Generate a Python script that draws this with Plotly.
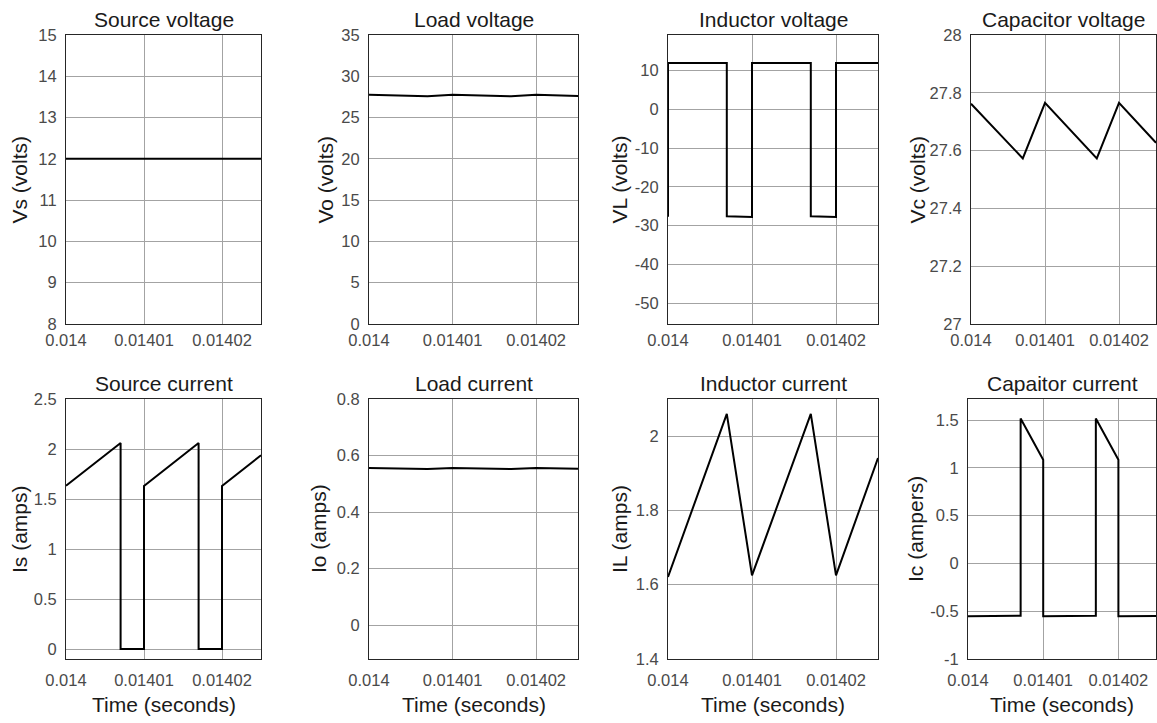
import plotly.graph_objects as go

# ---------------- data ----------------
t_span = [0.014, 0.014025]
vs = [12, 12]

t_tri = [0.014, 0.014007, 0.01401, 0.014017, 0.01402, 0.014025]
vo = [27.762, 27.573, 27.765, 27.573, 27.765, 27.627]
vc = [27.762, 27.573, 27.765, 27.573, 27.765, 27.627]
io = [0.556, 0.552, 0.556, 0.552, 0.556, 0.553]
il = [1.621, 2.060, 1.625, 2.060, 1.625, 1.941]

t_vl = [0.014, 0.014, 0.014007, 0.014007, 0.01401, 0.01401, 0.014017, 0.014017, 0.01402, 0.01402, 0.014025]
vl = [-27.7, 12, 12, -27.6, -27.8, 12, 12, -27.6, -27.8, 12, 12]

t_sw = [0.014, 0.014007, 0.014007, 0.01401, 0.01401, 0.014017, 0.014017, 0.01402, 0.01402, 0.014025]
i_s = [1.632, 2.060, 0, 0, 1.630, 2.060, 0, 0, 1.630, 1.937]
i_c = [-0.552, -0.548, 1.517, 1.084, -0.552, -0.548, 1.517, 1.084, -0.552, -0.550]

x_ticks = [0.014, 0.01401, 0.01402]
x_ticktext = ["0.014", "0.01401", "0.01402"]
x_label = "Time (seconds)"

titles = ["Source voltage", "Load voltage", "Inductor voltage", "Capacitor voltage",
          "Source current", "Load current", "Inductor current", "Capaitor current"]
ylabels = ["Vs (volts)", "Vo (volts)", "VL (volts)", "Vc (volts)",
           "Is (amps)", "Io (amps)", "IL (amps)", "Ic (ampers)"]

vs_ticks = [8, 9, 10, 11, 12, 13, 14, 15]
vo_ticks = [0, 5, 10, 15, 20, 25, 30, 35]
vl_ticks = [-50, -40, -30, -20, -10, 0, 10]
vc_ticks = [27, 27.2, 27.4, 27.6, 27.8, 28]
is_ticks = [0, 0.5, 1, 1.5, 2, 2.5]
io_ticks = [0, 0.2, 0.4, 0.6, 0.8]
il_ticks = [1.4, 1.6, 1.8, 2]
ic_ticks = [-1, -0.5, 0, 0.5, 1, 1.5]

y_ranges = [[8, 15], [0, 35], [-55.4, 19.2], [27, 28],
            [-0.1, 2.5], [-0.12, 0.8], [1.4, 2.1], [-1, 1.72]]

# ---------------- layout geometry (pixels) ----------------
W, H = 1157, 723
col_px = [[66, 261], [369, 578], [668, 878], [971, 1156]]
col_px_bottom4 = [968, 1156]
row_px = [[35, 324], [399, 659]]
ylabel_x = [[19, 325, 619, 917], [19, 318, 619, 915]]

FONT = "Liberation Sans, Arial, sans-serif"


def fmt(v):
    return "%g" % v


series = [
    (t_span, vs), (t_tri, vo), (t_vl, vl), (t_tri, vc),
    (t_sw, i_s), (t_tri, io), (t_tri, il), (t_sw, i_c),
]
yticks_all = [vs_ticks, vo_ticks, vl_ticks, vc_ticks, is_ticks, io_ticks, il_ticks, ic_ticks]

fig = go.Figure()
layout = dict(
    width=W, height=H,
    margin=dict(l=0, r=0, t=0, b=0, autoexpand=False),
    paper_bgcolor="white", plot_bgcolor="white",
    showlegend=False,
    font=dict(family=FONT, color="#262626"),
)
annotations = []

for k in range(8):
    r, c = divmod(k, 4)
    n = k + 1
    xs, ys = series[k]
    fig.add_trace(go.Scatter(x=xs, y=ys, mode="lines",
                             line=dict(color="black", width=2),
                             xaxis="x%d" % n, yaxis="y%d" % n,
                             hoverinfo="skip"))
    x0, x1 = col_px[c]
    if r == 1 and c == 3:
        x0, x1 = col_px_bottom4
    y0, y1 = row_px[r]
    xd = [x0 / W, x1 / W]
    yd = [1 - y1 / H, 1 - y0 / H]
    axis_common = dict(showline=True, mirror=True, linecolor="#262626", linewidth=1,
                       showgrid=True, gridcolor="#a3a3a3", gridwidth=1,
                       zeroline=False, ticks="", automargin=False,
                       tickfont=dict(size=16.5, color="#4a4a4a", family=FONT))
    xa = dict(axis_common, domain=xd, range=t_span, anchor="y%d" % n,
              tickmode="array", tickvals=x_ticks, ticktext=x_ticktext,
              ticklabelstandoff=1 if r == 0 else 6)
    yt = yticks_all[k]
    ya = dict(axis_common, domain=yd, range=y_ranges[k], anchor="x%d" % n,
              tickmode="array", tickvals=yt, ticktext=[fmt(v) for v in yt],
              ticklabelstandoff=5)
    layout["xaxis%d" % n] = xa
    layout["yaxis%d" % n] = ya
    # subplot title
    annotations.append(dict(text=titles[k], xref="paper", yref="paper",
                            x=(xd[0] + xd[1]) / 2, y=yd[1], xanchor="center",
                            yanchor="bottom", yshift=2, showarrow=False,
                            font=dict(size=21, color="#1a1a1a", family=FONT)))
    # y-axis label
    annotations.append(dict(text=ylabels[k], xref="paper", yref="paper",
                            x=ylabel_x[r][c] / W, y=(yd[0] + yd[1]) / 2,
                            xanchor="center", yanchor="middle", textangle=-90,
                            showarrow=False,
                            font=dict(size=21, color="#1a1a1a", family=FONT)))
    # x-axis label (bottom row)
    if r == 1:
        annotations.append(dict(text=x_label, xref="paper", yref="paper",
                                x=(xd[0] + xd[1]) / 2, y=5 / H,
                                xanchor="center", yanchor="bottom",
                                showarrow=False,
                                font=dict(size=21, color="#1a1a1a", family=FONT)))

layout["annotations"] = annotations
fig.update_layout(**layout)
fig.write_html("out.html")
